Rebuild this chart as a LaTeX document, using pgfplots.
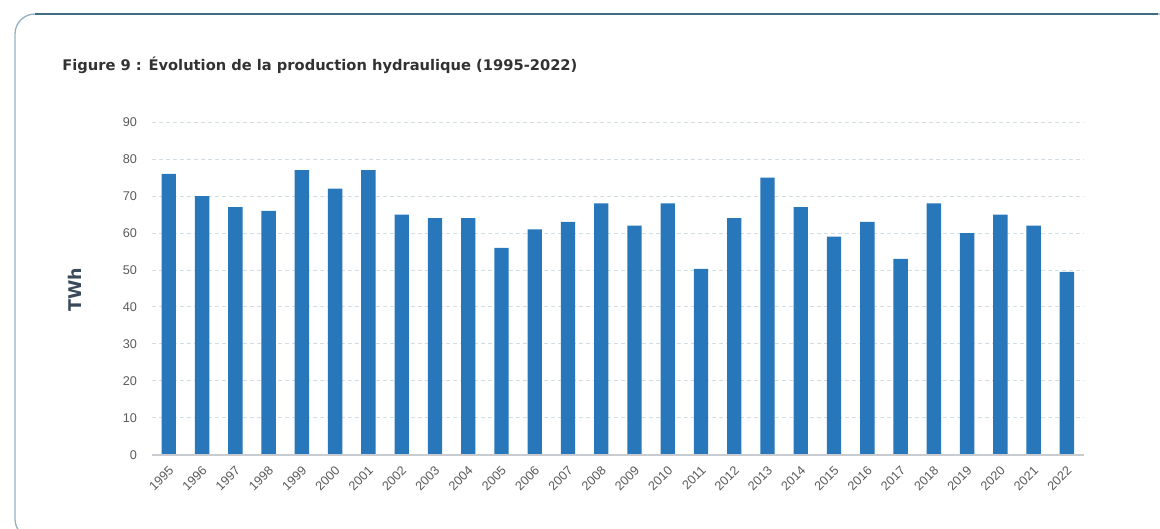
\documentclass[border=0pt]{standalone}
\usepackage{fontspec}
\setmainfont{Liberation Sans}
\newfontfamily\titlefont{DejaVu Sans}
\usepackage{pgfplots}
\usepackage{pgfplotstable}
\pgfplotsset{compat=1.18}
\definecolor{barblue}{RGB}{39,119,186}
\definecolor{gridc}{RGB}{210,222,228}
\definecolor{axisc}{RGB}{200,204,208}
\definecolor{tickc}{RGB}{90,90,90}
\definecolor{titlec}{RGB}{50,50,50}
\definecolor{ylabc}{RGB}{58,74,90}
\definecolor{framedark}{RGB}{62,110,132}
\definecolor{framelight}{RGB}{150,178,194}

\pgfplotstableread{
x y
0 76
1 70
2 67
3 66
4 77
5 72
6 77
7 65
8 64
9 64
10 56
11 61
12 63
13 68
14 62
15 68
16 50.3
17 64
18 75
19 67
20 59
21 63
22 53
23 68
24 60
25 65
26 62
27 49.5
}\datatable

\begin{document}
\begin{tikzpicture}
\useasboundingbox (0,0) rectangle (696pt,317.4pt);
\begin{scope}
\clip (0,0) rectangle (696pt,317.4pt);
\draw[framelight, line width=0.8pt, rounded corners=12pt] (9pt,-6pt) rectangle (730pt,309pt);
\draw[framedark, line width=1.4pt] (21pt,309pt) -- (694.5pt,309pt);
\end{scope}
\node[anchor=base west, inner sep=0pt, text=titlec, font=\titlefont\bfseries\fontsize{8.8}{10}\selectfont] at (37.2pt,274.8pt) {Figure 9 : Évolution de la production hydraulique (1995-2022)};
\node[rotate=90, inner sep=0pt, text=ylabc, font=\titlefont\bfseries\fontsize{10.5}{12}\selectfont] at (45pt,143.4pt) {TWh};
\begin{axis}[
  at={(91.32pt,44.4pt)}, anchor=south west,
  width=558.8pt, height=199.8pt, scale only axis,
  xmin=-0.5, xmax=27.5, ymin=0, ymax=90,
  ytick={0,10,...,90},
  xtick={0,...,27},
  xticklabels={1995,1996,1997,1998,1999,2000,2001,2002,2003,2004,2005,2006,2007,2008,2009,2010,2011,2012,2013,2014,2015,2016,2017,2018,2019,2020,2021,2022},
  /pgf/number format/assume math mode=true,
  axis line style={draw=none},
  tick style={draw=none},
  ymajorgrids,
  major grid style={gridc, line width=0.6pt, dash pattern=on 2.4pt off 1.8pt},
  tick label style={font=\fontsize{7.6}{9}\selectfont, text=tickc},
  yticklabel style={anchor=east, inner sep=0pt, xshift=-9pt},
  xticklabel style={inner sep=0pt, xshift=1.6pt, yshift=-8pt, rotate=45, anchor=east},
  clip=false,
]
\addplot[ybar, bar width=8.6pt, fill=barblue, draw=none] table[x=x, y=y] {\datatable};
\draw[axisc, line width=1.5pt] (axis cs:-0.5,0) -- (axis cs:27.5,0);
\end{axis}
\end{tikzpicture}
\end{document}
